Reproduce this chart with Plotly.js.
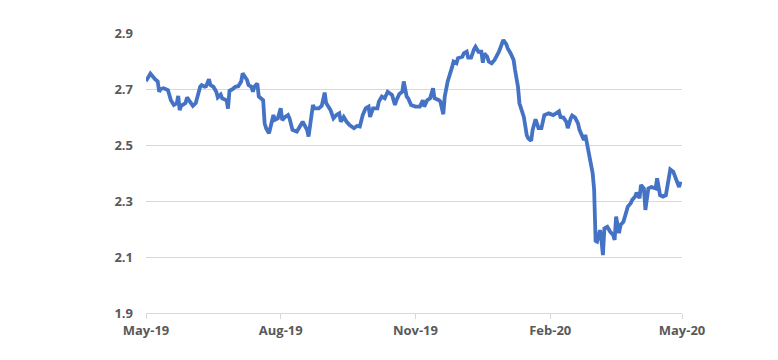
<!DOCTYPE html>
<html>
<head>
<meta charset="utf-8">
<script src="https://cdn.plot.ly/plotly-3.0.1.min.js"></script>
<style>html,body{margin:0;padding:0;background:#fff;}#chart{width:778px;height:360px;}</style>
</head>
<body>
<div id="chart"></div>
<script>
var dates = [
"2019-05-01","2019-05-04","2019-05-07","2019-05-09","2019-05-10","2019-05-11","2019-05-13","2019-05-15","2019-05-16","2019-05-18",
"2019-05-20","2019-05-22","2019-05-23","2019-05-24","2019-05-25","2019-05-28","2019-05-29","2019-05-31","2019-06-02","2019-06-04",
"2019-06-06","2019-06-07","2019-06-08","2019-06-10","2019-06-11","2019-06-13","2019-06-14","2019-06-16","2019-06-18","2019-06-19",
"2019-06-21","2019-06-22","2019-06-25","2019-06-26","2019-06-27","2019-06-29","2019-07-01","2019-07-03","2019-07-05","2019-07-06",
"2019-07-09","2019-07-10","2019-07-12","2019-07-13","2019-07-14","2019-07-16","2019-07-17","2019-07-20","2019-07-21","2019-07-22",
"2019-07-24","2019-07-26","2019-07-27","2019-07-28","2019-07-30","2019-08-01","2019-08-02","2019-08-04","2019-08-06","2019-08-07",
"2019-08-09","2019-08-12","2019-08-14","2019-08-16","2019-08-19","2019-08-20","2019-08-23","2019-08-24","2019-08-27","2019-08-29",
"2019-08-31","2019-09-01","2019-09-04","2019-09-06","2019-09-08","2019-09-10","2019-09-11","2019-09-13","2019-09-15","2019-09-17",
"2019-09-20","2019-09-22","2019-09-24","2019-09-26","2019-09-28","2019-09-30","2019-10-01","2019-10-03","2019-10-06","2019-10-07",
"2019-10-09","2019-10-11","2019-10-13","2019-10-16","2019-10-18","2019-10-19","2019-10-21","2019-10-23","2019-10-24","2019-10-26",
"2019-10-27","2019-10-29","2019-11-01","2019-11-04","2019-11-06","2019-11-07","2019-11-09","2019-11-11","2019-11-13","2019-11-14",
"2019-11-17","2019-11-18","2019-11-20","2019-11-21","2019-11-23","2019-11-25","2019-11-26","2019-11-27","2019-11-29","2019-11-30",
"2019-12-03","2019-12-04","2019-12-06","2019-12-07","2019-12-09","2019-12-11","2019-12-12","2019-12-14","2019-12-16","2019-12-17",
"2019-12-18","2019-12-20","2019-12-21","2019-12-23","2019-12-25","2019-12-28","2019-12-30","2019-12-31","2020-01-02","2020-01-03",
"2020-01-05","2020-01-07","2020-01-08","2020-01-10","2020-01-11","2020-01-14","2020-01-16","2020-01-17","2020-01-19","2020-01-20",
"2020-01-22","2020-01-24","2020-01-26","2020-01-28","2020-01-31","2020-02-03","2020-02-05","2020-02-07","2020-02-08","2020-02-10",
"2020-02-12","2020-02-13","2020-02-15","2020-02-16","2020-02-18","2020-02-20","2020-02-21","2020-02-23","2020-02-24","2020-02-25",
"2020-02-27","2020-02-28","2020-02-29","2020-03-01","2020-03-02","2020-03-03","2020-03-04","2020-03-06","2020-03-07","2020-03-08",
"2020-03-09","2020-03-11","2020-03-13","2020-03-15","2020-03-16","2020-03-17","2020-03-19","2020-03-20","2020-03-22","2020-03-24",
"2020-03-25","2020-03-27","2020-03-28","2020-03-30","2020-03-31","2020-04-02","2020-04-03","2020-04-05","2020-04-06","2020-04-08",
"2020-04-10","2020-04-13","2020-04-14","2020-04-16","2020-04-18","2020-04-20","2020-04-22","2020-04-23","2020-04-25","2020-04-27",
"2020-04-29","2020-04-30"
];
var values = [
2.728,2.755,2.736,2.727,2.690,2.700,2.703,2.700,2.696,2.660,
2.643,2.649,2.675,2.625,2.640,2.650,2.670,2.655,2.640,2.650,
2.696,2.708,2.714,2.708,2.710,2.735,2.714,2.708,2.690,2.670,
2.680,2.667,2.660,2.630,2.694,2.699,2.708,2.710,2.727,2.756,
2.732,2.714,2.708,2.690,2.708,2.720,2.673,2.660,2.578,2.560,
2.542,2.590,2.607,2.590,2.595,2.631,2.589,2.600,2.607,2.595,
2.554,2.548,2.566,2.583,2.554,2.530,2.643,2.631,2.631,2.640,
2.687,2.650,2.625,2.595,2.607,2.613,2.583,2.600,2.583,2.571,
2.560,2.568,2.566,2.607,2.631,2.637,2.600,2.631,2.631,2.655,
2.673,2.667,2.690,2.679,2.643,2.660,2.682,2.690,2.727,2.673,
2.667,2.643,2.637,2.637,2.660,2.637,2.660,2.667,2.703,2.667,
2.660,2.655,2.610,2.673,2.727,2.756,2.778,2.798,2.792,2.810,
2.815,2.827,2.833,2.812,2.812,2.842,2.851,2.833,2.833,2.794,
2.827,2.815,2.798,2.792,2.804,2.833,2.863,2.875,2.860,2.845,
2.827,2.804,2.768,2.708,2.649,2.600,2.535,2.524,2.515,2.554,
2.592,2.560,2.560,2.607,2.613,2.607,2.613,2.620,2.600,2.598,
2.583,2.560,2.595,2.605,2.598,2.577,2.554,2.530,2.518,2.536,
2.482,2.462,2.429,2.399,2.340,2.158,2.155,2.196,2.160,2.107,
2.202,2.208,2.190,2.179,2.161,2.244,2.185,2.214,2.226,2.268,
2.280,2.292,2.304,2.316,2.330,2.310,2.357,2.345,2.268,2.345,
2.350,2.345,2.381,2.321,2.316,2.321,2.375,2.413,2.405,2.381,
2.350,2.369
];
var yTicks = [1.9, 2.1, 2.3, 2.5, 2.7, 2.9];
var yTickText = ["1.9", "2.1", "2.3", "2.5", "2.7", "2.9"];
var xTicks = ["2019-05-01", "2019-08-01", "2019-11-01", "2020-02-01", "2020-05-01"];
var xTickText = ["May-19", "Aug-19", "Nov-19", "Feb-20", "May-20"];

var trace = {
  x: dates, y: values, type: "scatter", mode: "lines",
  line: {color: "#4472C4", width: 3.8, shape: "linear"},
  hoverinfo: "x+y"
};
var font = {family: "Open Sans, Liberation Sans, sans-serif", size: 13, color: "#595959", weight: "bold"};
var layout = {
  width: 778, height: 360,
  margin: {l: 146, r: 96, t: 33, b: 47},
  paper_bgcolor: "#ffffff", plot_bgcolor: "#ffffff",
  showlegend: false,
  font: font,
  xaxis: {
    type: "date", range: ["2019-05-01", "2020-05-01"],
    tickmode: "array", tickvals: xTicks, ticktext: xTickText,
    showgrid: false, zeroline: false,
    showline: true, linecolor: "#d9d9d9", linewidth: 1,
    ticks: "outside", ticklen: 5, tickcolor: "#d9d9d9", tickwidth: 1,
    tickfont: font, fixedrange: true
  },
  yaxis: {
    range: [1.9, 2.9],
    tickmode: "array", tickvals: yTicks, ticktext: yTickText,
    showgrid: true, gridcolor: "#d9d9d9", gridwidth: 1,
    zeroline: false, showline: false, ticks: "",
    ticklabelstandoff: 12,
    tickfont: font, fixedrange: true
  }
};
Plotly.newPlot("chart", [trace], layout, {displayModeBar: false, staticPlot: true});
</script>
</body>
</html>
